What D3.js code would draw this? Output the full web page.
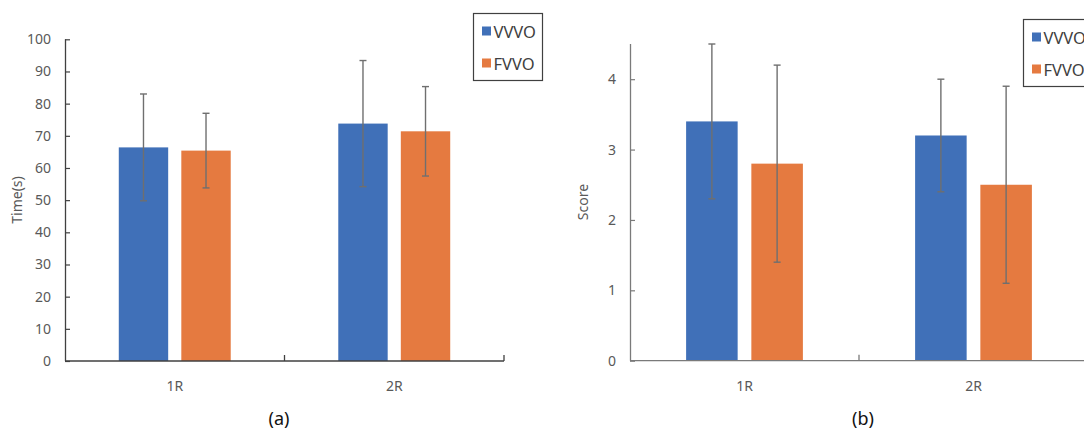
<!DOCTYPE html>
<html>
<head>
<meta charset="utf-8">
<script src="https://cdn.jsdelivr.net/npm/d3@7"></script>
<style>
  html, body { margin: 0; padding: 0; background: #fff; }
  svg { display: block; }
  text { font-family: "Noto Sans", "DejaVu Sans", sans-serif; }
</style>
</head>
<body>
<svg id="fig" width="1084" height="429"></svg>
<script>
// Shared categories and series
const categories = ["1R", "2R"];
const seriesNames = ["VVVO", "FVVO"];
const seriesColors = ["#4070B8", "#E57A40"];

// Panel (a): completion time in seconds
const timeVVVO = [66.4, 73.8];
const timeFVVO = [65.4, 71.4];
const timeErrVVVO = [16.6, 19.6];
const timeErrFVVO = [11.6, 13.9];
const timeTicks = [0, 10, 20, 30, 40, 50, 60, 70, 80, 90, 100];

// Panel (b): score
const scoreVVVO = [3.4, 3.2];
const scoreFVVO = [2.8, 2.5];
const scoreErrVVVO = [1.1, 0.8];
const scoreErrFVVO = [1.4, 1.4];
const scoreTicks = [0, 1, 2, 3, 4];

const svg = d3.select("#fig");

function drawPanel(p) {
  const g = svg.append("g");
  const x = d3.scaleBand().domain(categories).range([p.left, p.right]);
  const x1 = d3.scaleBand().domain(seriesNames).range([0, x.bandwidth()])
    .paddingInner(0.21).paddingOuter(0.86);
  const y = d3.scaleLinear().domain(p.domain).range([p.bottom, p.top]);

  const rows = [];
  categories.forEach((c, i) => {
    p.values.forEach((vals, s) => {
      rows.push({ cat: c, series: seriesNames[s], color: seriesColors[s], v: vals[i], e: p.errors[s][i] });
    });
  });

  // bars
  g.selectAll("rect.bar").data(rows).join("rect")
    .attr("class", "bar")
    .attr("x", d => x(d.cat) + x1(d.series))
    .attr("width", x1.bandwidth())
    .attr("y", d => y(d.v))
    .attr("height", d => y(0) - y(d.v))
    .attr("fill", d => d.color);

  // error bars
  const cap = 3.5;
  const cx = d => x(d.cat) + x1(d.series) + x1.bandwidth() / 2;
  const eb = g.selectAll("g.err").data(rows).join("g").attr("class", "err")
    .attr("stroke", "#6f6f6f").attr("stroke-width", 1.4).attr("fill", "none");
  eb.append("line")
    .attr("x1", cx).attr("x2", cx)
    .attr("y1", d => y(d.v + d.e)).attr("y2", d => y(d.v - d.e));
  eb.append("line")
    .attr("x1", d => cx(d) - cap).attr("x2", d => cx(d) + cap)
    .attr("y1", d => y(d.v + d.e)).attr("y2", d => y(d.v + d.e));
  eb.append("line")
    .attr("x1", d => cx(d) - cap).attr("x2", d => cx(d) + cap)
    .attr("y1", d => y(d.v - d.e)).attr("y2", d => y(d.v - d.e));

  // y axis with inward ticks
  const yAxis = d3.axisLeft(y).tickValues(p.ticks).tickFormat(d3.format("d"))
    .tickSizeInner(-5).tickSizeOuter(0).tickPadding(14);
  const ya = g.append("g").attr("transform", `translate(${p.left},0)`).call(yAxis);
  ya.select(".domain").attr("stroke", p.axisColor).attr("stroke-width", 1.3)
    .attr("d", `M0.5,${y.range()[0]}V${p.axisTop}`);
  ya.selectAll(".tick line").attr("stroke", p.axisColor).attr("stroke-width", 1.2);
  ya.selectAll(".tick text").attr("fill", "#595959").style("font-size", "14px");

  // x axis with upward ticks at category boundaries
  const xa = g.append("g").attr("transform", `translate(0,${p.bottom})`);
  xa.append("line").attr("x1", p.left).attr("x2", p.right).attr("y1", 0).attr("y2", 0)
    .attr("stroke", p.axisColor).attr("stroke-width", 1.3);
  const bounds = categories.map(c => x(c) + x.bandwidth());
  xa.selectAll("line.bt").data(bounds).join("line").attr("class", "bt")
    .attr("x1", d => d).attr("x2", d => d).attr("y1", 0).attr("y2", -6)
    .attr("stroke", p.axisColor).attr("stroke-width", 1.3);
  xa.selectAll("text.cat").data(categories).join("text").attr("class", "cat")
    .attr("x", d => x(d) + x.bandwidth() / 2).attr("y", 30)
    .attr("text-anchor", "middle").attr("fill", "#595959").style("font-size", "14px")
    .text(d => d);

  // axis title
  g.append("text")
    .attr("transform", `translate(${p.titleX},${p.titleY}) rotate(-90)`)
    .attr("text-anchor", "middle").attr("fill", "#595959").style("font-size", "14px")
    .text(p.yTitle);

  // panel caption
  g.append("text").attr("x", p.captionX).attr("y", 425)
    .attr("text-anchor", "middle").attr("fill", "#111").style("font-size", "18px")
    .text(p.caption);

  // legend
  const lg = g.append("g").attr("transform", `translate(${p.legendX},${p.legendY})`);
  lg.append("rect").attr("x", 0).attr("y", 0).attr("width", 69).attr("height", 67)
    .attr("fill", "#fff").attr("stroke", "#404040").attr("stroke-width", 1.2);
  seriesNames.forEach((s, i) => {
    lg.append("rect").attr("x", 8.5).attr("y", 13 + i * 32).attr("width", 9).attr("height", 9)
      .attr("fill", seriesColors[i]);
    lg.append("text").attr("x", 20).attr("y", 24 + i * 32)
      .attr("fill", "#404040").style("font-size", "16.5px")
      .text(s);
  });
}

drawPanel({
  left: 65, right: 504, top: 39.3, bottom: 361, axisTop: 39.3,
  domain: [0, 100], ticks: timeTicks,
  values: [timeVVVO, timeFVVO], errors: [timeErrVVVO, timeErrFVVO],
  axisColor: "#404040", yTitle: "Time(s)", titleX: 22, titleY: 200,
  caption: "(a)", captionX: 279, legendX: 473.5, legendY: 13.5
});

drawPanel({
  left: 630, right: 1088, top: 44, bottom: 360.7, axisTop: 44,
  domain: [0, 4.5], ticks: scoreTicks,
  values: [scoreVVVO, scoreFVVO], errors: [scoreErrVVVO, scoreErrFVVO],
  axisColor: "#7a7a7a", yTitle: "Score", titleX: 588, titleY: 202,
  caption: "(b)", captionX: 863, legendX: 1023.5, legendY: 19.5
});
</script>
</body>
</html>
